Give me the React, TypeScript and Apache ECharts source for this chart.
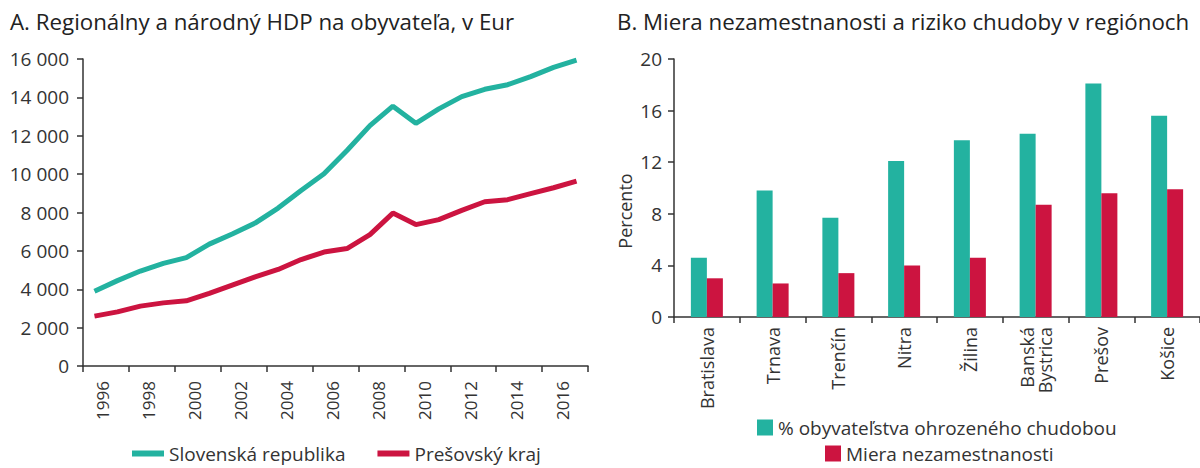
import React, { useEffect, useRef } from "react";
import * as echarts from "echarts";

const years = ["1996","1997","1998","1999","2000","2001","2002","2003","2004","2005","2006","2007","2008","2009","2010","2011","2012","2013","2014","2015","2016","2017"];
const svkGdp = [3900, 4450, 4950, 5350, 5650, 6350, 6880, 7450, 8230, 9150, 10020, 11230, 12530, 13540, 12650, 13400, 14040, 14420, 14660, 15080, 15560, 15940];
const presovGdp = [2600, 2820, 3120, 3290, 3400, 3780, 4210, 4640, 5030, 5550, 5940, 6120, 6850, 7970, 7370, 7630, 8110, 8560, 8670, 8980, 9290, 9640];

const regions = ["Bratislava", "Trnava", "Trenčín", "Nitra", "Žilina", "Banská\nBystrica", "Prešov", "Košice"];
const poverty = [4.6, 9.8, 7.7, 12.1, 13.7, 14.2, 18.1, 15.6];
const unemployment = [3.0, 2.6, 3.4, 4.0, 4.6, 8.7, 9.6, 9.9];

const TEAL = "#23b2a0";
const RED = "#cc1440";
const TXT = "#333333";
const FONT = "Open Sans";

export default function App() {
  const ref = useRef<HTMLDivElement>(null);
  useEffect(() => {
    if (!ref.current) return;
    const chart = echarts.init(ref.current, undefined, { renderer: "svg" });
    const axisLine = { show: true, lineStyle: { color: TXT, width: 1.5 } };
    const axisTick = { show: true, length: 6, lineStyle: { color: TXT, width: 1.5 } };
    const legendText = { fontSize: 19, color: TXT, fontFamily: FONT };
    chart.setOption({
      animation: false,
      textStyle: { fontFamily: FONT, color: TXT },
      title: [
        { text: "A. Regionálny a národný HDP na obyvateľa, v Eur", left: 5, top: 5, textStyle: { fontFamily: FONT, fontSize: 22.3, fontWeight: "normal", color: "#222" } },
        { text: "B. Miera nezamestnanosti a riziko chudoby v regiónoch", left: 612, top: 5, textStyle: { fontFamily: FONT, fontSize: 22.3, fontWeight: "normal", color: "#222" } },
      ],
      legend: [
        { data: ["Slovenská republika", "Prešovský kraj"], left: 127, top: 439, icon: "rect", itemWidth: 32, itemHeight: 6, itemGap: 32, textStyle: legendText },
        { data: ["% obyvateľstva ohrozeného chudobou"], left: 752, top: 413, icon: "rect", itemWidth: 16, itemHeight: 16, textStyle: legendText },
        { data: ["Miera nezamestnanosti"], left: 820, top: 439, icon: "rect", itemWidth: 16, itemHeight: 16, textStyle: legendText },
      ],
      grid: [
        { left: 83, top: 59, width: 505, height: 307 },
        { left: 674, top: 59, width: 526, height: 258 },
      ],
      xAxis: [
        {
          type: "category", gridIndex: 0, data: years, boundaryGap: true,
          axisLine, axisTick: { ...axisTick, interval: 1 },
          axisLabel: { interval: 1, rotate: 90, fontSize: 17, color: TXT, margin: 15, fontFamily: FONT, verticalAlign: "top" },
        },
        {
          type: "category", gridIndex: 1, data: regions, boundaryGap: true,
          axisLine, axisTick,
          axisLabel: { interval: 0, rotate: 90, fontSize: 18, color: TXT, margin: 10, fontFamily: FONT, lineHeight: 18 },
        },
      ],
      yAxis: [
        {
          type: "value", gridIndex: 0, min: 0, max: 16000, interval: 2000,
          axisLine, axisTick, splitLine: { show: false },
          axisLabel: { fontSize: 19, color: TXT, margin: 14, fontFamily: FONT, formatter: (v: number) => v >= 1000 ? `${Math.floor(v / 1000)} 000` : `${v}` },
        },
        {
          type: "value", gridIndex: 1, min: 0, max: 20, interval: 4,
          name: "Percento", nameLocation: "middle", nameGap: 40, nameRotate: 90,
          nameTextStyle: { fontSize: 18, color: TXT, fontFamily: FONT, padding: [0, 46, 0, 0] },
          axisLine, axisTick, splitLine: { show: false },
          axisLabel: { fontSize: 19, color: TXT, margin: 12, fontFamily: FONT },
        },
      ],
      series: [
        { name: "Slovenská republika", type: "line", xAxisIndex: 0, yAxisIndex: 0, data: svkGdp, symbol: "none", lineStyle: { color: TEAL, width: 5 }, itemStyle: { color: TEAL } },
        { name: "Prešovský kraj", type: "line", xAxisIndex: 0, yAxisIndex: 0, data: presovGdp, symbol: "none", lineStyle: { color: RED, width: 5 }, itemStyle: { color: RED } },
        { name: "% obyvateľstva ohrozeného chudobou", type: "bar", xAxisIndex: 1, yAxisIndex: 1, data: poverty, barWidth: 16, barGap: "0%", itemStyle: { color: TEAL } },
        { name: "Miera nezamestnanosti", type: "bar", xAxisIndex: 1, yAxisIndex: 1, data: unemployment, barWidth: 16, barGap: "0%", itemStyle: { color: RED } },
      ],
    });
    return () => chart.dispose();
  }, []);
  return <div ref={ref} style={{ position: "absolute", left: 0, top: 0, width: 1200, height: 468 }} />;
}
